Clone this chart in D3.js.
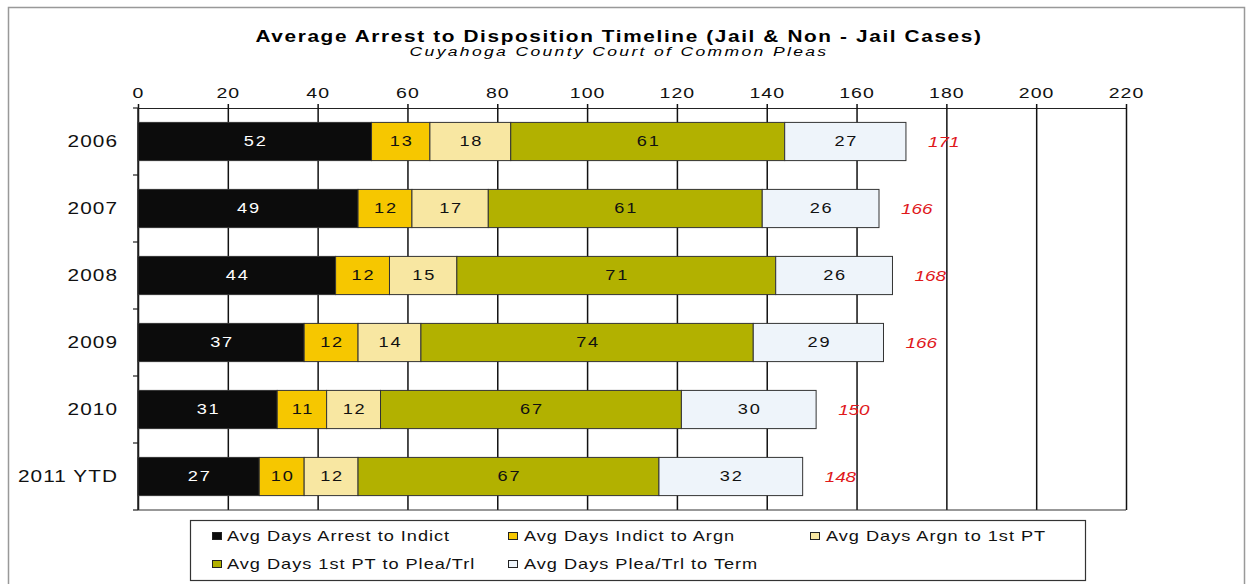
<!DOCTYPE html>
<html>
<head>
<meta charset="utf-8">
<script src="https://cdn.jsdelivr.net/npm/d3@7"></script>
<style>
  body { margin: 0; background: #fff; }
  svg { font-family: "Liberation Sans", Arial, sans-serif; }
</style>
</head>
<body>
<div class="chart"></div>
<script>
// data
const years = ['2006', '2007', '2008', '2009', '2010', '2011 YTD'];
const arrestToIndict = [52, 49, 44, 37, 31, 27];
const indictToArgn = [13, 12, 12, 12, 11, 10];
const argnTo1stPT = [18, 17, 15, 14, 12, 12];
const firstPTToPlea = [61, 61, 71, 74, 67, 67];
const pleaToTerm = [27, 26, 26, 29, 30, 32];
const totals = [171, 166, 168, 166, 150, 148];
const xTicks = [0, 20, 40, 60, 80, 100, 120, 140, 160, 180, 200, 220];
const seriesNames = ['Avg Days Arrest to Indict', 'Avg Days Indict to Argn', 'Avg Days Argn to 1st PT',
                     'Avg Days 1st PT to Plea/Trl', 'Avg Days Plea/Trl to Term'];
const seriesColors = ['#0c0c0c', '#f6c700', '#f8e7a2', '#b2b100', '#eef4fa'];
const labelColors = ['#fff', '#111', '#111', '#111', '#111'];

// table for the stack
const table = years.map((y, i) => ({
  year: y, s0: arrestToIndict[i], s1: indictToArgn[i], s2: argnTo1stPT[i],
  s3: firstPTToPlea[i], s4: pleaToTerm[i], total: totals[i]
}));
const keys = ['s0', 's1', 's2', 's3', 's4'];

const width = 1253, height = 584;
const margin = {top: 108, left: 138, right: 127, bottom: 74};
const SX = 1.3; // the scanned original is stretched sideways, so text glyphs are widened

// put a text at (px,py) with widened glyphs
function stretched(sel, px, py) {
  return sel.attr('transform', (d, i) =>
    `translate(${typeof px === 'function' ? px(d, i) : px},${typeof py === 'function' ? py(d, i) : py}) scale(${SX},1)`);
}

const svg = d3.select('.chart').append('svg')
  .attr('width', width).attr('height', height);

// outer frame
svg.append('rect').attr('x', 8.5).attr('y', 7.5).attr('width', 1236).attr('height', 590)
  .attr('fill', 'none').attr('stroke', '#999').attr('stroke-width', 1.5);

const x = d3.scaleLinear().domain([0, 220]).range([margin.left, width - margin.right]);
const y = d3.scaleBand().domain(years).range([margin.top, height - margin.bottom]).paddingInner(0.43).paddingOuter(0.215);

// title
stretched(svg.append('text'), 619, 42).attr('text-anchor', 'middle')
  .style('font-size', '16px').style('font-weight', 'bold').style('letter-spacing', '1.25px')
  .text('Average Arrest to Disposition Timeline (Jail & Non - Jail Cases)');
stretched(svg.append('text'), 619, 56).attr('text-anchor', 'middle')
  .style('font-size', '13.5px').style('font-style', 'italic').style('letter-spacing', '1.8px')
  .text('Cuyahoga County Court of Common Pleas');

// grid + top axis
const xAxis = d3.axisTop(x).tickValues(xTicks).tickSizeInner(-(height - margin.bottom - margin.top)).tickSizeOuter(0).tickPadding(10);
const gx = svg.append('g').attr('transform', `translate(0,${margin.top})`).call(xAxis);
gx.select('.domain').attr('stroke', '#222').attr('stroke-width', 1.2);
gx.selectAll('line').attr('stroke', '#111').attr('stroke-width', 1.5).attr('y1', -4);
gx.selectAll('text').attr('transform', `scale(${SX},1)`).attr('y', -10)
  .style('font-size', '15px').style('letter-spacing', '0.8px').attr('fill', '#111');

// bottom line
svg.append('line').attr('x1', x(0)).attr('x2', x(220))
  .attr('y1', height - margin.bottom).attr('y2', height - margin.bottom)
  .attr('stroke', '#333').attr('stroke-width', 1.2);

// left axis
const step = y.step();
const boundaries = d3.range(years.length + 1).map(i => margin.top + i * step);
svg.append('line').attr('x1', x(0)).attr('x2', x(0)).attr('y1', margin.top).attr('y2', height - margin.bottom)
  .attr('stroke', '#222').attr('stroke-width', 1.5);
svg.selectAll('.ytick').data(boundaries).enter().append('line')
  .attr('x1', x(0) - 5).attr('x2', x(0)).attr('y1', d => d).attr('y2', d => d)
  .attr('stroke', '#222').attr('stroke-width', 1.2);
stretched(svg.selectAll('.ylab').data(years).enter().append('text'), 118, d => y(d) + y.bandwidth() / 2)
  .attr('dy', '0.35em').attr('text-anchor', 'end')
  .style('font-size', '16px').style('letter-spacing', '0.8px').attr('fill', '#111')
  .text(d => d);

// bars
const stacked = d3.stack().keys(keys)(table);
const layers = svg.selectAll('.layer').data(stacked).enter().append('g').attr('class', 'layer');
layers.selectAll('rect').data(d => d).enter().append('rect')
  .attr('x', d => x(d[0])).attr('y', d => y(d.data.year))
  .attr('width', d => x(d[1]) - x(d[0])).attr('height', y.bandwidth())
  .attr('fill', (d, i, n) => seriesColors[keys.indexOf(d3.select(n[i].parentNode).datum().key)])
  .attr('stroke', '#333').attr('stroke-width', 1);
layers.each(function(layer, li) {
  stretched(d3.select(this).selectAll('.seg').data(layer).enter().append('text'),
      d => (x(d[0]) + x(d[1])) / 2 + 1, d => y(d.data.year) + y.bandwidth() / 2)
    .attr('dy', '0.35em').attr('text-anchor', 'middle')
    .style('font-size', '14px').style('letter-spacing', '1.4px').attr('fill', labelColors[li])
    .text(d => d[1] - d[0]);
});

// totals
stretched(svg.selectAll('.tot').data(stacked[4]).enter().append('text'),
    d => x(d[1]) + 22, d => y(d.data.year) + y.bandwidth() / 2)
  .attr('dy', '0.35em').style('font-size', '14.5px').style('font-style', 'italic').style('letter-spacing', '0px')
  .attr('fill', '#e0181b').text(d => d.data.total);

// legend
const legend = svg.append('g');
legend.append('rect').attr('x', 190.5).attr('y', 520.5).attr('width', 895).attr('height', 60)
  .attr('fill', '#fff').attr('stroke', '#333').attr('stroke-width', 1.2);
const legPos = [[212, 536], [508, 536], [810, 536], [212, 564], [508, 564]];
seriesNames.forEach((name, i) => {
  const g = legend.append('g').attr('transform', `translate(${legPos[i][0]},${legPos[i][1]})`);
  g.append('rect').attr('x', 0.5).attr('y', -3.5).attr('width', 9).attr('height', 7)
    .attr('fill', seriesColors[i]).attr('stroke', '#222').attr('stroke-width', 1);
  stretched(g.append('text'), i === 0 || i === 3 ? 15 : 16, 0).attr('dy', '0.35em')
    .style('font-size', '14px').style('letter-spacing', '0.75px').attr('fill', '#111').text(name);
});
</script>
</body>
</html>
